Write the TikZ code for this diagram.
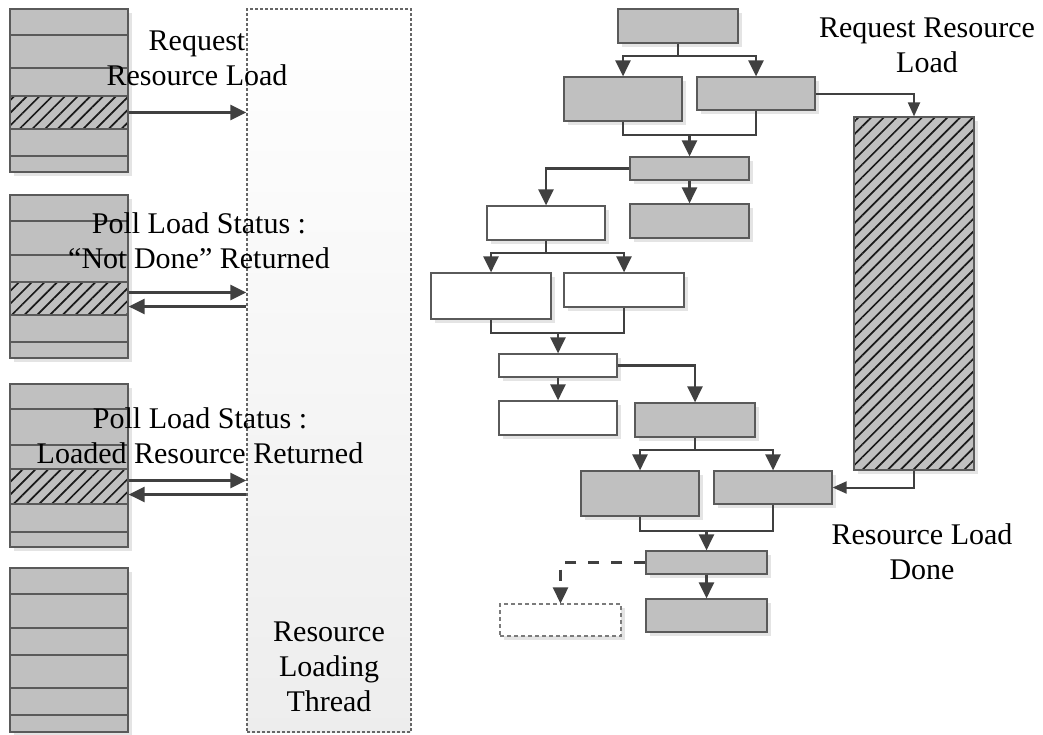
\documentclass[tikz,border=0pt]{standalone}
\usepackage{fontspec}
\setmainfont{Liberation Serif}
\usetikzlibrary{arrows.meta,patterns.meta,shadows,fit,calc}

\definecolor{boxgrey}{HTML}{C0C0C0}
\definecolor{edgegrey}{HTML}{5A5A5A}
\definecolor{linkgrey}{HTML}{404040}
\definecolor{shadegrey}{HTML}{E4E4E4}

\tikzset{
  boxshadow/.style={general shadow={fill=shadegrey, shadow xshift=4pt, shadow yshift=-4pt}},
  gbox/.style={boxshadow, draw=edgegrey, line width=1.2pt, fill=boxgrey, inner sep=0pt},
  wbox/.style={boxshadow, draw=edgegrey, line width=1.2pt, fill=white, inner sep=0pt},
  obox/.style={boxshadow, draw=edgegrey!80, line width=1.1pt, dash pattern=on 4pt off 3pt, fill=white, inner sep=0pt},
  hatchrow/.style={draw=edgegrey, line width=1.2pt, preaction={fill=boxgrey},
    pattern={Lines[angle=45,distance=9pt,line width=1.7pt]}, pattern color=black!90, inner sep=0pt},
  hatchbox/.style={boxshadow, hatchrow},
  rowline/.style={draw=edgegrey, line width=1.2pt},
  thread/.style={draw=black!60, line width=1.3pt, dash pattern=on 3pt off 2pt,
    top color=white, bottom color=black!7, inner sep=0pt},
  link/.style={draw=linkgrey, line width=2.6pt},
  arr/.style={link, -{Triangle[length=16pt,width=15pt]}},
  thinarr/.style={draw=linkgrey, line width=2pt, -{Triangle[length=14pt,width=12pt]}},
  dasharr/.style={arr, dash pattern=on 11pt off 12pt},
  lbl/.style={font=\fontsize{30}{35}\selectfont, align=center, inner sep=0pt, text=black},
}

\begin{document}
\begin{tikzpicture}[x=1pt, y=-1pt]
\useasboundingbox (0,0) rectangle (1043,734);

% ---------- main thread call stacks ----------
\node[gbox, fit={(10,9)(128,172)}] (S1) {};
\node[hatchrow, fit={(10,96)(128,129)}] (S1h) {};
\foreach \y in {35,68,156} \draw[rowline] (10,\y) -- (128,\y);

\node[gbox, fit={(10,195)(128,358)}] (S2) {};
\node[hatchrow, fit={(10,282)(128,315)}] (S2h) {};
\foreach \y in {221,255,342} \draw[rowline] (10,\y) -- (128,\y);

\node[gbox, fit={(10,384)(128,547)}] (S3) {};
\node[hatchrow, fit={(10,469)(128,504)}] (S3h) {};
\foreach \y in {409,445,532} \draw[rowline] (10,\y) -- (128,\y);

\node[gbox, fit={(10,568)(128,732)}] (S4) {};
\foreach \y in {594,628,655,688,715} \draw[rowline] (10,\y) -- (128,\y);

% ---------- loader thread ----------
\node[thread, fit={(247,9)(411,732)}] (T) {};

% requests and polls
\draw[arr] (S1h.east) -- (S1h.east -| T.west);
\draw[arr] ([yshift=6pt]S2h.east) -- ([yshift=6pt]S2h.east -| T.west);
\draw[arr] ([yshift=-8pt]S2h.east -| T.west) -- ([yshift=-8pt]S2h.east);
\draw[arr] ([yshift=6pt]S3h.east) -- ([yshift=6pt]S3h.east -| T.west);
\draw[arr] ([yshift=-8pt]S3h.east -| T.west) -- ([yshift=-8pt]S3h.east);

% ---------- task graph ----------
\node[gbox, fit={(618,9)(738,43)}]   (A) {};
\node[gbox, fit={(564,77)(682,121)}] (B) {};
\node[gbox, fit={(697,77)(815,110)}] (C) {};
\node[gbox, fit={(630,157)(749,180)}] (D) {};
\node[wbox, fit={(487,206)(605,240)}] (E) {};
\node[gbox, fit={(630,204)(749,238)}] (F) {};
\node[wbox, fit={(431,273)(551,319)}] (G) {};
\node[wbox, fit={(564,273)(684,307)}] (H) {};
\node[wbox, fit={(499,354)(617,377)}] (I) {};
\node[wbox, fit={(499,401)(617,435)}] (J) {};
\node[gbox, fit={(635,403)(755,437)}] (K) {};
\node[gbox, fit={(581,471)(699,516)}] (L) {};
\node[gbox, fit={(714,471)(832,504)}] (M) {};
\node[gbox, fit={(646,551)(767,574)}] (N) {};
\node[obox, fit={(500,604)(621,636)}] (O) {};
\node[gbox, fit={(646,599)(767,632)}] (P) {};
\node[hatchbox, fit={(854,117)(974,470)}] (Q) {};

\coordinate (a1) at (A.south |- 0,56);
\draw[link] (A.south) -- (a1);
\draw[arr] (a1) -| (B.north);
\draw[arr] (a1) -| (C.north);

\coordinate (bc) at (D.north |- 0,135);
\draw[link] (B.south) |- (bc);
\draw[link] (C.south) |- (bc);
\draw[arr] (bc) -- (D.north);

\draw[arr] (D.west) -| (E.north);
\draw[arr] (D.south) -- (F.north);

\coordinate (e1) at (E.south |- 0,253);
\draw[link] (E.south) -- (e1);
\draw[arr] (e1) -| (G.north);
\draw[arr] (e1) -| (H.north);

\coordinate (gh) at (I.north |- 0,333);
\draw[link] (G.south) |- (gh);
\draw[link] (H.south) |- (gh);
\draw[arr] (gh) -- (I.north);

\draw[arr] (I.south) -- (J.north);
\draw[arr] (I.east) -| (K.north);

\coordinate (k1) at (K.south |- 0,450);
\draw[link] (K.south) -- (k1);
\draw[arr] (k1) -| (L.north);
\draw[arr] (k1) -| (M.north);

\coordinate (lm) at (N.north |- 0,531);
\draw[link] (L.south) |- (lm);
\draw[link] (M.south) |- (lm);
\draw[arr] (lm) -- (N.north);

\draw[arr] (N.south) -- (P.north);
\draw[dasharr] (N.west) -| (O.north);

\draw[thinarr] (C.east) -| (Q.north);
\draw[thinarr] (Q.south) |- (M.east);

% ---------- labels ----------
\node[lbl] (t1) at (197,58) {Request\\Resource Load};
\node[lbl] (t2) at (199,241) {Poll Load Status :\\“Not Done” Returned};
\node[lbl] (t3) at (200,436) {Poll Load Status :\\Loaded Resource Returned};
\node[lbl] (t4) at (329,667) {Resource\\Loading\\Thread};
\node[lbl] (t5) at (927,45) {Request Resource\\Load};
\node[lbl] (t6) at (922,552) {Resource Load\\Done};
\end{tikzpicture}
\end{document}
